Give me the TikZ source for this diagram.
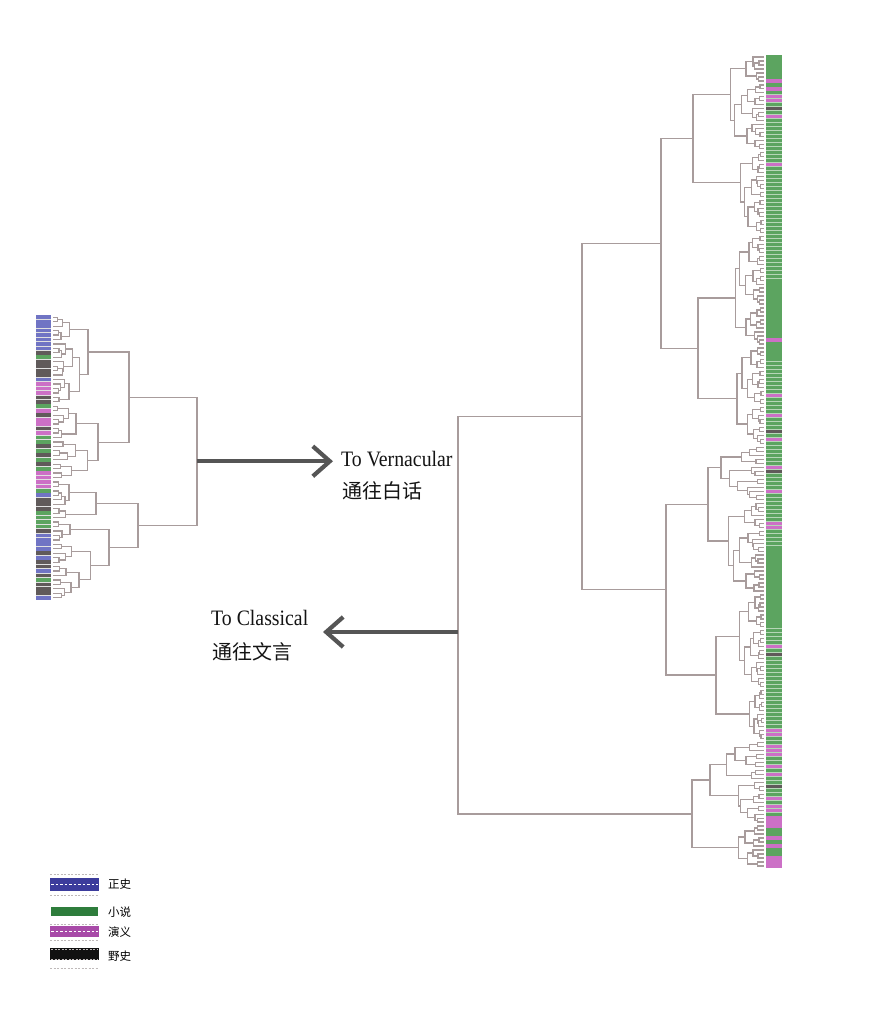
\documentclass[tikz,border=0pt]{standalone}
\usepackage{fontspec}
\setmainfont{Liberation Serif}
\newfontfamily\cjk{Noto Sans CJK SC}
\usetikzlibrary{arrows.meta,calc}

\definecolor{treec}{RGB}{168,156,156}
\definecolor{leafb}{RGB}{112,116,196}
\definecolor{leafg}{RGB}{92,164,96}
\definecolor{leafm}{RGB}{204,112,198}
\definecolor{leafk}{RGB}{96,90,90}
\definecolor{arrc}{RGB}{85,85,85}
\definecolor{txtc}{RGB}{20,20,20}
\definecolor{legb}{RGB}{60,60,156}
\definecolor{legg}{RGB}{46,125,60}
\definecolor{legm}{RGB}{168,74,168}
\definecolor{legk}{RGB}{17,17,17}
\definecolor{legdash}{RGB}{190,185,185}

% recursive dendrogram texture generator
\def\dtree#1#2{%
  \ifnum#1=#2\relax
    \pgfmathsetmacro\dtY{\dTop+(#1+0.5)*\dSp}%
    \global\let\dRetY\dtY
    \gdef\dRetH{0}%
  \else
    \begingroup
      \pgfmathtruncatemacro\dN{#2-#1+1}%
      \pgfmathsetmacro\dR{mod(#1*5+#2*11+\dSeed,13)/12}%
      \pgfmathtruncatemacro\dK{max(1,min(\dN-1,round(\dN*(0.3+0.4*\dR))))}%
      \pgfmathtruncatemacro\dM{#1+\dK-1}%
      \pgfmathtruncatemacro\dMp{\dM+1}%
      \edef\dCallA{\noexpand\dtree{#1}{\dM}}\dCallA
      \let\dYa\dRetY \let\dHa\dRetH
      \edef\dCallB{\noexpand\dtree{\dMp}{#2}}\dCallB
      \let\dYb\dRetY \let\dHb\dRetH
      \pgfmathsetmacro\dRr{mod(#1*7+#2*5+\dSeed*3,11)/10}%
      \pgfmathsetmacro\dH{max(\dB*((ln(\dN)/ln(2))^1.4+0.5*\dRr),max(\dHa,\dHb)+1.2)}%
      \draw[dgline] ({\dLeaf+(\dDir)*(\dHa)},{\dYa}) -- ({\dLeaf+(\dDir)*(\dH)},{\dYa})
        -- ({\dLeaf+(\dDir)*(\dH)},{\dYb}) -- ({\dLeaf+(\dDir)*(\dHb)},{\dYb});
      \pgfmathsetmacro\dYc{(\dYa+\dYb)/2}%
      \global\let\dRetY\dYc \global\let\dRetH\dH
    \endgroup
  \fi}

\newcommand\subtree[4]{%
  \pgfmathsetmacro\dB{#4/((ln(#3-#2+1)/ln(2))^1.4+0.25)}%
  \dtree{#2}{#3}%
  \coordinate (#1) at ({\dLeaf+(\dDir)*(\dRetH)},{\dRetY});}

\newcommand\dlink[4]{%
  \path let \p1=($(#2)!0.5!(#3)$) in coordinate (#1) at (#4pt,\y1);
  \draw[dgline] (#2) -- (#2 -| #1) -- (#3 -| #1) -- (#3);}

\begin{document}
\begin{tikzpicture}[x=1pt,y=-1pt,
  dgline/.style={draw=treec,line width=1.25pt},
  arrowline/.style={draw=arrc,line width=4.2pt,-{Straight Barb[length=17pt,width=30pt]}},
  entxt/.style={font=\fontsize{22}{26}\selectfont,text=txtc,inner sep=0pt},
  cntxt/.style={font=\cjk\fontsize{20}{24}\selectfont,text=txtc,inner sep=0pt},
  leglab/.style={font=\cjk\fontsize{11.5}{13}\selectfont,text=black,inner sep=0pt,anchor=west},
  legdashline/.style={draw=legdash,line width=0.9pt,dash pattern=on 2pt off 1.5pt},
  legmid/.style={draw=white,line width=0.7pt,dash pattern=on 2.5pt off 2pt}]
\useasboundingbox (0,0) rectangle (889,1024);
\fill[white] (0,0) rectangle (889,1024);

% ---------------- left dendrogram ----------------
\fill[black!12] (36,315) rectangle (51,600);
\foreach \c [count=\i from 0] in {b,b,b,b,b,b,b,b,k,g,k,k,k,k,b,m,m,m,k,k,g,m,k,m,m,k,m,g,g,k,g,k,g,k,g,m,m,m,m,g,b,k,k,k,g,g,g,g,k,b,b,b,b,k,b,k,k,b,k,g,k,k,k,b}{
  \fill[leaf\c] (36,{315+\i*4.453+0.35}) rectangle (51,{315+(\i+1)*4.453-0.35});
}
\def\dTop{315}\def\dSp{4.453}\def\dLeaf{53}\def\dDir{1}\def\dSeed{3}
\subtree{A1a}{0}{5}{17}
\subtree{A1b}{6}{19}{27}
\subtree{A2a}{20}{27}{22}
\subtree{A2b}{28}{36}{36}
\subtree{B1a}{37}{42}{16}
\subtree{B1b}{43}{45}{12}
\subtree{B2a}{46}{50}{16}
\subtree{B2b}{51}{63}{36}
\dlink{A1}{A1a}{A1b}{88}
\dlink{A2}{A2a}{A2b}{98}
\dlink{A}{A1}{A2}{129}
\dlink{B1}{B1a}{B1b}{96}
\dlink{B2}{B2a}{B2b}{109}
\dlink{B}{B1}{B2}{138}
\dlink{L}{A}{B}{197}

% ---------------- right dendrogram ----------------
\fill[leafg!45!white] (766,55) rectangle (782,868);
\foreach \i in {0,...,203}{
  \fill[leafg] (766,{55+\i*3.985+0.35}) rectangle (782,{55+(\i+1)*3.985-0.35});
}
\foreach \i/\c in {6/m,8/m,10/m,11/m,13/k,15/m,27/m,71/m,85/m,90/m,94/k,96/m,103/m,104/k,109/m,117/m,118/m,148/m,150/k,169/m,170/m,173/m,174/m,175/m,178/m,180/m,183/k,186/m,188/m,189/m,191/m,192/m,193/m,196/m,198/m,201/m,202/m,203/m}{
  \fill[leaf\c] (766,{55+\i*3.985+0.35}) rectangle (782,{55+(\i+1)*3.985-0.35});
}
\def\dTop{55}\def\dSp{3.985}\def\dLeaf{764}\def\dDir{-1}\def\dSeed{7}
\subtree{R111a}{0}{23}{34}
\subtree{R111b}{24}{44}{24}
\subtree{R112a}{45}{72}{29}
\subtree{R112b}{73}{97}{27}
\subtree{R121a}{98}{111}{42}
\subtree{R121b}{112}{134}{36}
\subtree{R122a}{135}{158}{24}
\subtree{R122b}{159}{171}{14}
\subtree{R21a}{172}{181}{37}
\subtree{R21b}{182}{192}{27}
\subtree{R22}{193}{203}{27}
\dlink{R111}{R111a}{R111b}{693}
\dlink{R112}{R112a}{R112b}{698}
\dlink{R11}{R111}{R112}{661}
\dlink{R121}{R121a}{R121b}{708}
\dlink{R122}{R122a}{R122b}{716}
\dlink{R12}{R121}{R122}{666}
\dlink{R1}{R11}{R12}{582}
\dlink{R21}{R21a}{R21b}{710}
\dlink{R2}{R21}{R22}{692}
\dlink{R}{R1}{R2}{458}

% ---------------- arrows and labels ----------------
\coordinate (vtip) at (333,459);
\draw[arrowline] (L) -- (L -| vtip);
\node[entxt,anchor=base west] (vern) at (341,466) {\scalebox{0.9}[1]{To Vernacular}};
\node[cntxt,anchor=base west] (vernzh) at (342,498) {通往白话};

\coordinate (Rarr) at (458,632);
\coordinate (ctip) at (323,632);
\draw[arrowline] (Rarr) -- (ctip);
\node[entxt,anchor=base west] (clas) at (211,625) {\scalebox{0.9}[1]{To Classical}};
\node[cntxt,anchor=base west] (claszh) at (212,659) {通往文言};

% ---------------- legend ----------------
\draw[legdashline] (50,874) -- (99,874);
\fill[legb] (50,878) rectangle (99,891);
\draw[legmid] (51,884.5) -- (98,884.5);
\draw[legdashline] (50,895) -- (99,895);
\fill[legg] (51,907) rectangle (98,916);
\fill[legm] (50,926) rectangle (99,937);
\draw[legmid] (51,931.5) -- (98,931.5);
\draw[legdashline] (50,924) -- (99,924);
\draw[legdashline] (50,940) -- (99,940);
\fill[legk] (50,948) rectangle (99,960);
\draw[legdashline] (51,949) -- (98,949);
\draw[legdashline] (51,959) -- (98,959);
\draw[legdashline] (50,968) -- (99,968);
\node[leglab] (lz) at (108,884) {正史};
\node[leglab] (lx) at (108,912) {小说};
\node[leglab] (ly) at (108,932) {演义};
\node[leglab] (lw) at (108,956) {野史};
\end{tikzpicture}
\end{document}
